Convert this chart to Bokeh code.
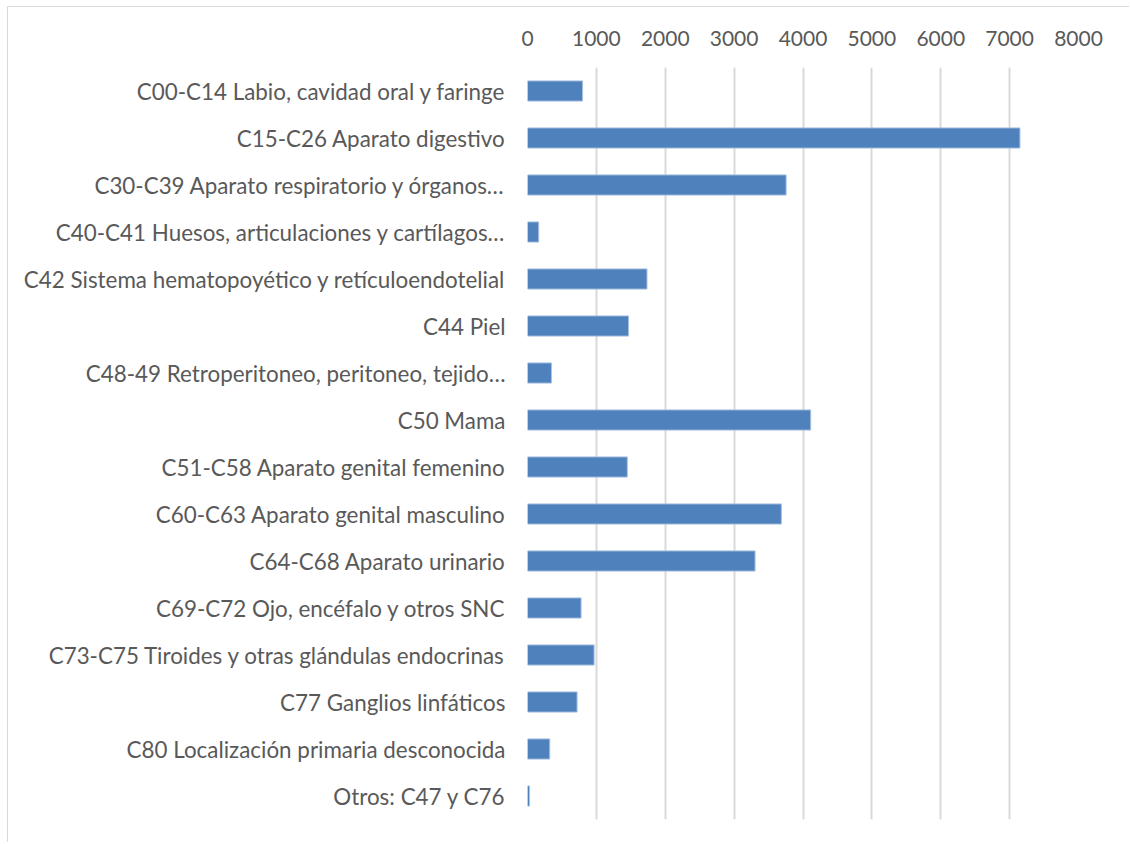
from bokeh.plotting import figure
from bokeh.models import Range1d, FactorRange, ColumnDataSource, SingleIntervalTicker
from bokeh.embed import file_html
from bokeh.resources import INLINE

categories = [
    "C00-C14 Labio, cavidad oral y faringe",
    "C15-C26 Aparato digestivo",
    "C30-C39 Aparato respiratorio y órganos…",
    "C40-C41 Huesos, articulaciones y cartílagos…",
    "C42 Sistema hematopoyético y retículoendotelial",
    "C44 Piel",
    "C48-49 Retroperitoneo, peritoneo, tejido…",
    "C50 Mama",
    "C51-C58 Aparato genital femenino",
    "C60-C63 Aparato genital masculino",
    "C64-C68 Aparato urinario",
    "C69-C72 Ojo, encéfalo y otros SNC",
    "C73-C75 Tiroides y otras glándulas endocrinas",
    "C77 Ganglios linfáticos",
    "C80 Localización primaria desconocida",
    "Otros: C47 y C76",
]
values = [800, 7150, 3755, 163, 1735, 1468, 348, 4112, 1449, 3686, 3304, 778, 967, 720, 323, 30]

FONT = "Lato"
TEXT_COLOR = "#595959"

source = ColumnDataSource(dict(cat=categories, val=values))

p = figure(
    width=1122, height=836,
    y_range=FactorRange(*list(reversed(categories)), range_padding=0),
    x_range=Range1d(0, 8000),
    x_axis_location="above",
    output_backend="svg", toolbar_location=None,
    min_border_left=519, min_border_right=52,
    min_border_top=60, min_border_bottom=24,
)
p.styles = {"border-left": "1px solid #d9d9d9", "border-top": "1px solid #d9d9d9",
            "margin-left": "7px", "margin-top": "6px"}

p.hbar(y="cat", right="val", left=0, height=0.43, source=source,
       fill_color="#4f81bd", line_color="#a9c2e0", line_width=1)

p.outline_line_color = None
p.background_fill_color = "white"
p.border_fill_color = "white"

p.xgrid.grid_line_color = "#d9d9d9"
p.xgrid.grid_line_width = 2
p.ygrid.grid_line_color = None
p.xaxis.ticker = SingleIntervalTicker(interval=1000)

for ax in (p.xaxis[0], p.yaxis[0]):
    ax.axis_line_color = None
    ax.major_tick_line_color = None
    ax.minor_tick_line_color = None
    ax.major_tick_out = 0
    ax.major_tick_in = 0
    ax.minor_tick_out = 0
    ax.major_label_text_font = FONT
    ax.major_label_text_color = TEXT_COLOR

p.xaxis.major_label_text_font_size = "21px"
p.yaxis.major_label_text_font_size = "22.4px"
p.xaxis.major_label_standoff = 22
p.yaxis.major_label_standoff = 22

open("out.html", "w").write(file_html(p, INLINE))
